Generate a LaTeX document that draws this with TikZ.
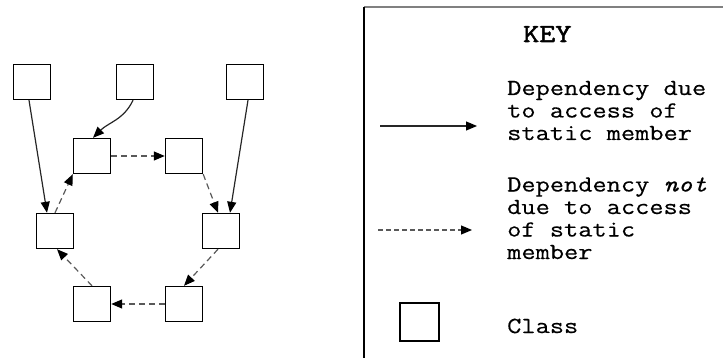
\documentclass[tikz,border=0pt]{standalone}
\usepackage{fontspec}
\usetikzlibrary{positioning,arrows.meta}
\usepackage{xcolor}
\newfontfamily\keyfont{Latin Modern Mono}[FakeStretch=1.2, FakeBold=0.4]
\newfontfamily\keyhead{Latin Modern Mono}[FakeStretch=1.2, FakeBold=2]
\definecolor{dashgray}{gray}{0.35}
\definecolor{framegray}{gray}{0.5}

\begin{document}
\begin{tikzpicture}[
    x=1pt, y=1pt,
    cls/.style={rectangle, draw=black, fill=white, line width=1.4pt,
                minimum width=37pt, minimum height=35pt, inner sep=0pt},
    dep/.style={-{Triangle[length=11pt,width=9pt,color=black]},
                line width=1.2pt, draw=black!85},
    nodep/.style={-{Triangle[length=11pt,width=9pt,color=black]},
                  line width=1.2pt, draw=dashgray, dash pattern=on 6pt off 4pt},
    keytxt/.style={font=\keyfont\fontsize{23}{22.5}\selectfont,
                   align=left, inner sep=0pt, anchor=base west}
]
\useasboundingbox (0,0) rectangle (723,-358);

% Classes
\node[cls] (t1) at (32,-82) {};
\node[cls] (t2) at (135,-82) {};
\node[cls] (t3) at (245,-82) {};
\node[cls] (a) at (92,-156) {};
\node[cls] (b) at (184,-156) {};
\node[cls] (c) at (55,-231) {};
\node[cls] (d) at (221,-231) {};
\node[cls] (e) at (92,-304) {};
\node[cls] (f) at (184,-304) {};

% Static member access
\draw[dep] ([xshift=-3pt]t1.south) -- ([xshift=-8pt]c.north);
\draw[dep] ([xshift=-2pt]t2.south) to[out=-115,in=45] ([xshift=1pt]a.north);
\draw[dep] ([xshift=3pt]t3.south) -- ([xshift=9pt]d.north);

% Other dependencies (cycle)
\draw[nodep] (a.east) -- (b.west);
\draw[nodep] (b.south east) -- ([xshift=-3pt]d.north);
\draw[nodep] ([xshift=-3pt]d.south) -- (f.north);
\draw[nodep] (f.west) -- (e.east);
\draw[nodep] (e.north) -- ([xshift=2pt]c.south);
\draw[nodep] (c.north) -- (a.south west);

% Key
\draw[framegray, line width=2pt] (364,-7) -- (723,-7);
\draw[black, line width=1.3pt] (364,-7) -- (364,-358);
\node[keytxt, font=\keyhead\fontsize{26}{26}\selectfont] (key) at (523,-42) {KEY};

\coordinate (s1) at (380,-126);
\coordinate (s2) at (477,-126);
\draw[dep] (s1) -- (s2);
\node[keytxt] (deptxt) at (507,-140) {Dependency due\\to access of\\static member};

\coordinate (n1) at (378,-230);
\coordinate (n2) at (472,-230);
\draw[nodep, dash pattern=on 5pt off 3pt] (n1) -- (n2);
\node[keytxt] (nodeptxt) at (507,-259) {Dependency \textit{not}\\due to access\\of static\\member};

\node[cls, minimum width=39pt, minimum height=38pt] (kcls) at (419.5,-322) {};
\node[keytxt] (clstxt) at (507,-333) {Class};

\end{tikzpicture}
\end{document}
